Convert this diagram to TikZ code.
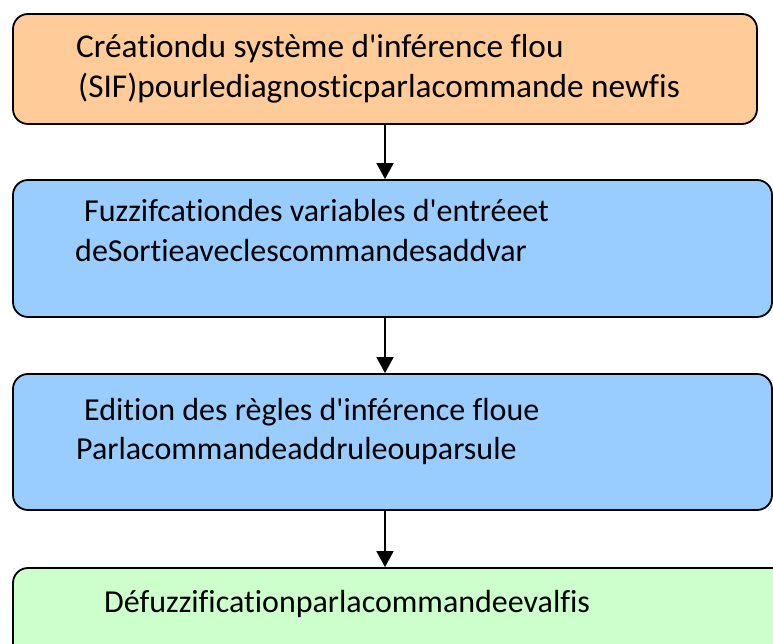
\documentclass[tikz,border=0pt]{standalone}
\usepackage{fontspec}
\setmainfont{Carlito}[Ligatures={NoCommon}]
\usetikzlibrary{arrows.meta}
\definecolor{boxorange}{HTML}{FFCC99}
\definecolor{boxblue}{HTML}{99CCFF}
\definecolor{boxgreen}{HTML}{CCFFCC}
\tikzset{
  stage/.style={draw=black, line width=1.8pt, rounded corners=15pt, inner sep=0pt},
  txt/.style={anchor=base west, inner sep=0pt, font=\fontsize{32}{40}\selectfont},
  bigtxt/.style={txt, font=\fontsize{33.3}{40}\selectfont},
  flow/.style={line width=1.8pt, -{Triangle[length=16pt,width=17pt]}},
}
\newcommand{\apos}{\textquotesingle}
\begin{document}
\begin{tikzpicture}[x=1pt,y=1pt]
  \useasboundingbox (0,0) rectangle (773,644);
  \clip (0,0) rectangle (773,644);
  % process stages (y measured from the bottom edge)
  \node[stage, fill=boxorange, minimum width=744pt, minimum height=110pt] (s1) at (385,575) {};
  \node[stage, fill=boxblue, minimum width=759pt, minimum height=137pt] (s2) at (392.5,395.5) {};
  \node[stage, fill=boxblue, minimum width=759pt, minimum height=136pt] (s3) at (392.5,202) {};
  \node[stage, fill=boxgreen, minimum width=790pt, minimum height=120pt] (s4) at (408,16) {};
  % labels
  \node[bigtxt] (t1a) at (76,586) {Créationdu système d\apos inférence flou};
  \node[bigtxt] (t1b) at (78,546) {(SIF)pourlediagnosticparlacommande newfis};
  \node[txt] (t2a) at (84,422) {Fuzzifcationdes variables d\apos entréeet};
  \node[txt] (t2b) at (75,382) {deSortieaveclescommandesaddvar};
  \node[txt] (t3a) at (84,223) {Edition des règles d\apos inférence floue};
  \node[txt] (t3b) at (76,184) {Parlacommandeaddruleouparsule};
  \node[txt] (t4) at (104,31) {Défuzzificationparlacommandeevalfis};
  % connectors
  \draw[flow] (s1.south) -- (s1.south |- s2.north);
  \draw[flow] (s1.south |- s2.south) -- (s1.south |- s3.north);
  \draw[flow] (s1.south |- s3.south) -- (s1.south |- s4.north);
\end{tikzpicture}
\end{document}
